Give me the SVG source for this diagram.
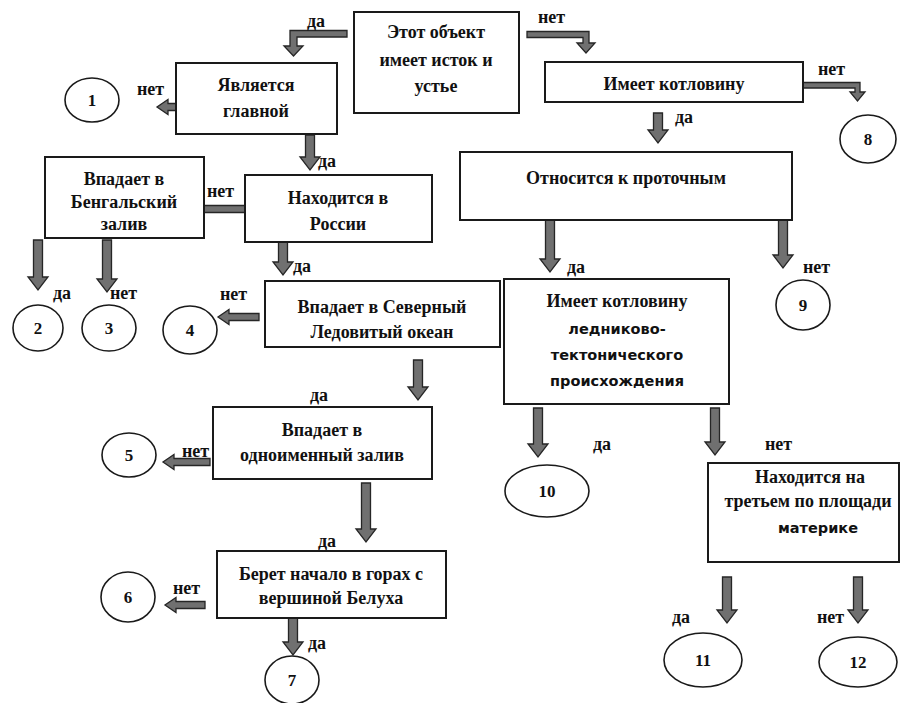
<svg xmlns="http://www.w3.org/2000/svg" width="901" height="703" viewBox="0 0 901 703">
<style>
.box{fill:#fff;stroke:#1a1a1a;stroke-width:2}
.oval{fill:#fff;stroke:#1a1a1a;stroke-width:1.6}
.arr{fill:#707070;stroke:#262626;stroke-width:1.3;stroke-linejoin:miter}
.t{font-family:'Liberation Serif','Times New Roman',serif;font-size:18px;font-weight:bold;fill:#111;text-anchor:middle}
.s{font-family:'DejaVu Sans',sans-serif;font-size:14.5px;font-weight:bold;fill:#111;text-anchor:middle}
.n{font-family:'Liberation Serif','Times New Roman',serif;font-size:17px;font-weight:bold;fill:#111;text-anchor:middle}
.l{font-family:'Liberation Serif','Times New Roman',serif;font-size:18px;font-weight:bold;fill:#111}
</style>
<rect width="901" height="703" fill="#fff"/>
<g id="connectors">
<path class="arr" d="M347,30.5 H290 V46 H284 L293.5,56 L303,46 H297 V37 H347 Z"/>
<path class="arr" d="M527,31.5 H589 V43 H595 L586,53 L577,43 H583 V37.5 H527 Z"/>
<path class="arr" d="M803,82.5 H860 V92 H865 L857.5,101 L850,92 H855 V88 H803 Z"/>
<polygon class="arr" points="208,103.5 168,103.5 168,99.5 157,107 168,114.5 168,110.5 208,110.5"/>
<polygon class="arr" points="252,205.5 203,205.5 203,201.5 192,209 203,216.5 203,212.5 252,212.5"/>
<polygon class="arr" points="259,313.5 229,313.5 229,309.5 218,317 229,324.5 229,320.5 259,320.5"/>
<polygon class="arr" points="210,458.5 174,458.5 174,454.5 163,462 174,469.5 174,465.5 210,465.5"/>
<polygon class="arr" points="205,601.5 176,601.5 176,597.5 165,605 176,612.5 176,608.5 205,608.5"/>
<polygon class="arr" points="305.5,135 314.5,135 314.5,157 320,157 310,170 300,157 305.5,157"/>
<polygon class="arr" points="33.5,240 42.5,240 42.5,277 48,277 38,290 28,277 33.5,277"/>
<polygon class="arr" points="102.5,240 111.5,240 111.5,279 117,279 107,292 97,279 102.5,279"/>
<polygon class="arr" points="278.5,242 287.5,242 287.5,262 293,262 283,275 273,262 278.5,262"/>
<polygon class="arr" points="413.5,360 422.5,360 422.5,387 428,387 418,400 408,387 413.5,387"/>
<polygon class="arr" points="361.5,483 370.5,483 370.5,529 376,529 366,542 356,529 361.5,529"/>
<polygon class="arr" points="288.5,618 297.5,618 297.5,642 303,642 293,655 283,642 288.5,642"/>
<polygon class="arr" points="653.5,113 662.5,113 662.5,130 668,130 658,143 648,130 653.5,130"/>
<polygon class="arr" points="545.5,220 554.5,220 554.5,259 560,259 550,272 540,259 545.5,259"/>
<polygon class="arr" points="778.5,220 787.5,220 787.5,255 793,255 783,268 773,255 778.5,255"/>
<polygon class="arr" points="533.5,408 542.5,408 542.5,444 548,444 538,457 528,444 533.5,444"/>
<polygon class="arr" points="710.5,408 719.5,408 719.5,442 725,442 715,455 705,442 710.5,442"/>
<polygon class="arr" points="722.5,577 731.5,577 731.5,610 737,610 727,623 717,610 722.5,610"/>
<polygon class="arr" points="853.5,577 862.5,577 862.5,610 868,610 858,623 848,610 853.5,610"/>
<text class="l" x="307" y="27">да</text>
<text class="l" x="137" y="95">нет</text>
<text class="l" x="318" y="167">да</text>
<text class="l" x="207" y="197">нет</text>
<text class="l" x="53" y="299">да</text>
<text class="l" x="110" y="299">нет</text>
<text class="l" x="293" y="272">да</text>
<text class="l" x="220" y="300">нет</text>
<text class="l" x="310" y="401">да</text>
<text class="l" x="182" y="457">нет</text>
<text class="l" x="318" y="547">да</text>
<text class="l" x="173" y="594">нет</text>
<text class="l" x="308" y="649">да</text>
<text class="l" x="538" y="23">нет</text>
<text class="l" x="818" y="75">нет</text>
<text class="l" x="675" y="123">да</text>
<text class="l" x="567" y="273">да</text>
<text class="l" x="803" y="273">нет</text>
<text class="l" x="593" y="450">да</text>
<text class="l" x="765" y="450">нет</text>
<text class="l" x="672" y="623">да</text>
<text class="l" x="817" y="623">нет</text>
</g>
<g id="q-source-mouth">
<rect class="box" x="354" y="12" width="165" height="101"/>
<text class="t" x="436" y="38">Этот объект</text>
<text class="t" x="436" y="66">имеет исток и</text>
<text class="t" x="436" y="92">устье</text>
</g>
<g id="q-main">
<rect class="box" x="176" y="63" width="161" height="71"/>
<text class="t" x="256" y="91">Является</text>
<text class="t" x="256" y="117">главной</text>
</g>
<g id="q-russia">
<rect class="box" x="245" y="175" width="187" height="67"/>
<text class="t" x="338" y="204">Находится в</text>
<text class="t" x="338" y="230">России</text>
</g>
<g id="q-bengal">
<rect class="box" x="45" y="157" width="159" height="81"/>
<text class="t" x="124" y="185">Впадает в</text>
<text class="t" x="124" y="208">Бенгальский</text>
<text class="t" x="124" y="230">залив</text>
</g>
<g id="q-arctic">
<rect class="box" x="265" y="281" width="235" height="66"/>
<text class="t" x="382" y="313">Впадает в Северный</text>
<text class="t" x="382" y="338">Ледовитый океан</text>
</g>
<g id="q-gulf">
<rect class="box" x="213" y="407" width="219" height="72"/>
<text class="t" x="322" y="436">Впадает в</text>
<text class="t" x="322" y="461">одноименный залив</text>
</g>
<g id="q-belukha">
<rect class="box" x="217" y="551" width="229" height="67"/>
<text class="t" x="331" y="580">Берет начало в горах с</text>
<text class="t" x="331" y="604">вершиной Белуха</text>
</g>
<g id="q-basin">
<rect class="box" x="545" y="62" width="258" height="40"/>
<text class="t" x="674" y="90">Имеет котловину</text>
</g>
<g id="q-flow">
<rect class="box" x="460" y="152" width="332" height="68"/>
<text class="t" x="626" y="184">Относится к проточным</text>
</g>
<g id="q-glacial">
<rect class="box" x="504" y="279" width="225" height="125"/>
<text class="t" x="617" y="307">Имеет котловину</text>
<text class="s" x="617" y="334">ледниково-</text>
<text class="s" x="617" y="360">тектонического</text>
<text class="s" x="617" y="386">происхождения</text>
</g>
<g id="q-continent">
<rect class="box" x="708" y="463" width="191" height="99"/>
<text class="t" x="810" y="483">Находится на</text>
<text class="t" x="808" y="507">третьем по площади</text>
<text class="s" x="818" y="533">материке</text>
</g>
<g id="r1"><ellipse class="oval" cx="92" cy="100" rx="27" ry="22"/><text class="n" x="92" y="106">1</text></g>
<g id="r2"><ellipse class="oval" cx="38" cy="328" rx="25" ry="23"/><text class="n" x="38" y="334">2</text></g>
<g id="r3"><ellipse class="oval" cx="109" cy="328" rx="27" ry="23"/><text class="n" x="109" y="334">3</text></g>
<g id="r4"><ellipse class="oval" cx="190" cy="330" rx="27" ry="24"/><text class="n" x="190" y="336">4</text></g>
<g id="r5"><ellipse class="oval" cx="129" cy="455" rx="27" ry="22"/><text class="n" x="129" y="461">5</text></g>
<g id="r6"><ellipse class="oval" cx="128" cy="597" rx="27" ry="25"/><text class="n" x="128" y="603">6</text></g>
<g id="r7"><ellipse class="oval" cx="292" cy="680" rx="27" ry="24"/><text class="n" x="292" y="686">7</text></g>
<g id="r8"><ellipse class="oval" cx="868" cy="139" rx="28" ry="24"/><text class="n" x="868" y="145">8</text></g>
<g id="r9"><ellipse class="oval" cx="803" cy="305" rx="27" ry="25"/><text class="n" x="803" y="311">9</text></g>
<g id="r10"><ellipse class="oval" cx="547" cy="491" rx="42" ry="26"/><text class="n" x="547" y="497">10</text></g>
<g id="r11"><ellipse class="oval" cx="703" cy="660" rx="39" ry="27"/><text class="n" x="703" y="666">11</text></g>
<g id="r12"><ellipse class="oval" cx="858" cy="662" rx="39" ry="25"/><text class="n" x="858" y="668">12</text></g>
</svg>
